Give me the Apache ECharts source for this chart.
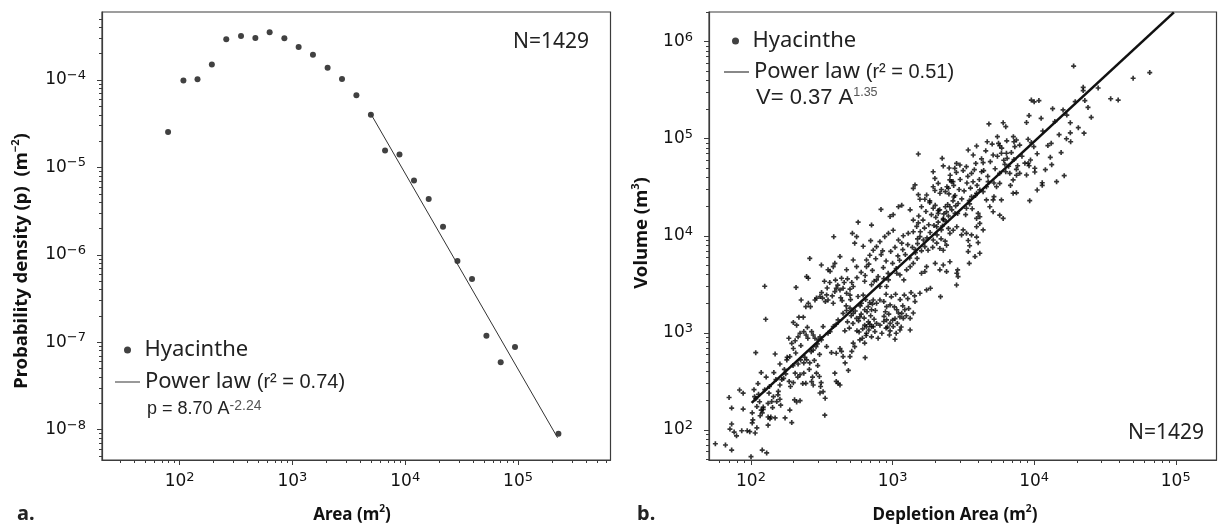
<!DOCTYPE html>
<html>
<head>
<meta charset="utf-8">
<script src="https://cdn.jsdelivr.net/npm/echarts@6/dist/echarts.min.js"></script>
<style>
  html, body { margin: 0; padding: 0; background: #fff; }
  #chart { width: 1218px; height: 526px; }
</style>
</head>
<body>
<div id="chart"></div>
<script>
// a. binned probability density vs area
const binArea = [79, 108, 144, 193, 259, 350, 469, 628, 848, 1135, 1520, 2050, 2750, 3690, 4960,
  6620, 8890, 11960, 16140, 21620, 29010, 39080, 52420, 70200, 93970, 227900];
const binDensity = [2.55e-5, 9.9e-5, 1.02e-4, 1.51e-4, 2.92e-4, 3.18e-4, 3.02e-4, 3.51e-4, 3.0e-4,
  2.38e-4, 1.95e-4, 1.38e-4, 1.03e-4, 6.7e-5, 4.0e-5, 1.56e-5, 1.41e-5, 7.1e-6, 4.36e-6, 2.1e-6,
  8.5e-7, 5.3e-7, 1.19e-7, 5.9e-8, 8.8e-8, 9.0e-9];
const fitAreaA = [4900, 224000];
const fitDensityA = [4.2e-5, 8.1e-9];

// b. volume vs depletion area, [area, volume]
const depPoints = [
  [56,72],[66,70],[73,62],[73,168],[79,87],[71,102],[73,115],[76,95],[86,98],[88,164],[94,98],[98,96],
  [100,53],[102,118],[103,127],[107,93],[110,105],[116,140],[120,150],[122,172],[120,62],[129,58],
  [132,136],[132,112],[138,136],[148,133],[174,133],[194,119],[188,160],[332,142],
  [110,174],[118,160],[122,163],[132,188],[136,130],
  [70,216],[83,258],[88,239],[108,210],[113,233],[134,239],[144,220],[156,250],[140,196],[152,196],[160,207],
  [160,290],[170,340],[176,378],[186,316],[199,307],[205,384],[222,370],[236,384],[244,302],[268,315],
  [275,290],[290,384],[304,355],[313,307],[323,248],[400,316],[412,302],[425,290],[203,204],[210,194],[222,200],
  [108,625],[148,606],[160,478],[179,526],[188,570],[199,690],[215,478],[224,526],[236,490],[247,526],
  [260,490],[275,665],[294,770],[314,845],[342,722],[370,626],[400,616],[436,645],[462,490],[487,410],
  [500,570],[515,645],[527,785],[640,555],
  [194,780],[205,830],[215,910],[222,990],[236,1030],[250,1140],[268,1030],[275,950],[283,880],[299,845],
  [307,910],[323,1160],[350,990],[362,1030],[381,1160],[400,1230],[412,1360],[447,1590],[473,1700],
  [500,1800],[527,1590],[557,1410],[587,1460],[635,1200],[654,1160],[690,1230],[730,1160],[770,1250],
  [814,1200],[867,1310],[907,1360],[960,1250],[1010,1160],[1040,1400],[1127,1460],[1190,1410],[1330,1070],
  [199,1280],[210,1200],[218,1450],[234,1450],[226,2180],[244,1860],[254,2020],[263,1860],[283,2180],
  [290,2280],[307,2370],[320,2280],[342,2460],[350,2180],[381,2020],[391,2660],[400,2880],[425,2770],
  [447,2880],[473,2560],[500,2820],[527,3000],[570,2370],[603,2020],[635,1730],[672,1860],[710,1730],
  [730,2180],[770,2020],[814,2180],[867,2100],[907,1860],[960,1940],[1070,1730],[1160,1590],[1220,1730],
  [1330,1410],[1440,2100],[1560,2560],[1738,2770],[1850,2880],
  [125,3020],[127,1380],[208,2940],[260,5850],
  [247,3800],[254,3650],[314,5000],[350,4470],[362,4300],[381,4810],[436,3650],[473,4470],[527,5630],
  [557,4810],[635,3400],[654,4810],[710,3130],[740,3400],[770,3510],[814,3000],[867,3620],[907,3000],
  [935,3510],[1070,4110],[1127,3950],[1200,3510],[1256,4460],[1330,4810],[1400,5200],[1490,5850],
  [1600,4110],[1690,4280],[1738,4810],[2000,5200],[2158,4460],[2280,5000],[2405,4280],[2540,5400],
  [2840,4110],[2900,3800],
  [384,9770],[391,5200],[425,6100],[520,10600],[540,8400],[557,9800],[571,13800],[654,5630],[690,6300],
  [730,7100],[770,7720],[814,8700],[880,9800],[935,10600],[1010,11400],[1100,9050],[1160,8400],
  [1190,10000],[1290,10600],[1400,11000],[1560,9800],[1650,9050],[1690,7720],[1780,7100],[1937,9050],
  [2050,8400],[2158,7400],[2280,7100],[2405,8000],[2540,10600],[2681,11400],[2840,12400],
  [828,18700],[710,12900],[960,15800],[1010,16500],[1100,19900],[1160,20600],[1330,18500],[1400,14500],
  [1520,13600],[1600,19900],[1830,22000],[2000,20600],[2100,17000],[2280,15000],[2405,17600],
  [2540,19900],[2760,17000],
  [425,690],[447,570],[540,720],[587,845],[612,880],[635,785],[654,990],[680,1070],[710,1160],
  [750,1030],[840,990],[900,1120],[1060,990],[1127,1070],[950,950],[710,910],[790,880],[1040,860],
  [391,384],[334,212],[307,240],
  [19000,560000],[50000,420000],[65500,480000],[22200,338000],[22200,313000],[28300,333000],
  [34700,258000],[39200,250000],[22800,247000],[19500,241000],[25300,166000],[22500,114000],
  [18000,146000],[18000,115000],[16900,100000],[18100,93000],[16000,198000],[13500,204000],
  [11200,162000],[13200,89600],[13000,64300],[13300,54000],[14400,36100],[16300,41600],[11400,33100],
  [11400,35200],[10500,29600],[9300,23000],[10100,45400],[10100,49600],[9060,55700],[8830,42300],
  [9420,60300],[9940,82800],[9060,98700],[9550,91200],[8830,147000],[9200,173000],[9550,250000],
  [10800,247000],[10000,240000],[7300,82800],[7200,93000],[7490,97000],[7130,105000],[6300,133000],
  [6040,146000],[5600,89600],[5714,84700],[5870,70800],[6370,70800],[6440,62800],[6210,54500],
  [6300,45700],[6730,44000],[7100,37600],[7490,48400],[7640,52700],[7900,44000],[9200,52700],
  [4790,142000],[4660,93000],[5130,67900],[5500,105000],[3920,84100],[3420,76500],[3710,67900],
  [3870,55700],[4360,56600],[4250,45700],[3610,44000],[3320,51500],[2990,53600],[2830,55700],
  [2750,49500],[1520,69600],[2240,62800],[2280,52400],[1935,45700],[1990,39000],[2100,34700],
  [2510,49900],[2536,37600],[2600,36200],[2670,36200],[2420,32000],[2480,30900],[2360,28500],
  [2160,27400],[2210,30000],[1935,32000],[1990,29300],[1440,33400],[1400,30800],[1520,26500],
  [1560,23800],[1740,26300],[1690,23800],[1830,22900],[1935,19200],[2100,18200],[2360,19900],
  [2670,22900],[2710,25100],[2790,20300],[2880,17000],[2480,16000],[2280,14600],[2050,12400],
  [2210,11500],[2480,11900],[3500,21300],[3610,25300],[3324,19200],[3920,27400],[4130,29700],
  [4360,28500],[4600,32000],[4730,36100],[5130,23400],[5200,25300],[5420,32000],[5710,34700],
  [5870,23400],[5710,16300],[6040,15100],[7100,27400],[7490,27700],[4020,17000],[3920,15100],
  [4130,15700],[4600,23400],[4860,19900],[5130,17700],[3150,11500],[3324,10600],[3610,10200],
  [3070,10200],[3920,12400],[4130,13400],[4360,11500],[3420,8950],[3500,7900],[3920,9700],
  [4020,8500],[3420,6870],[4130,6610],[3820,6100],[3480,5200],[2880,4450],[2830,3110],[2180,2360],
  // denser parts of the cloud
  [460,1050],[480,1300],[495,1120],[510,1500],[525,1250],[545,1680],[560,1050],[575,1330],[590,1900],
  [600,1560],[615,1100],[630,1420],[645,2200],[660,1650],[675,1300],[700,1500],[720,1980],[740,1380],
  [755,1700],[470,1900],[505,2200],[620,2450],[690,2050],[580,1020],[650,940],
  [870,1480],[890,1650],[920,1150],[940,1560],[980,2350],[1000,1350],[1030,1850],[1050,2500],[1080,1250],
  [1100,1600],[1130,2200],[1150,1150],[1180,1900],[1210,2450],[1250,1500],[1280,2250],[1300,1780],
  [1350,2600],[1400,1600],[1430,2400],[900,2500],[960,1050],
  [315,2600],[330,3400],[345,2900],[360,3300],[375,2400],[395,3500],[410,3100],[430,2300],[455,3300],
  [480,3600],[500,2450],[515,3300],[335,2100],[440,2150],
  [1450,7200],[1480,12500],[1500,8300],[1530,16000],[1570,11000],[1600,7000],[1640,14500],[1680,12000],
  [1720,17800],[1750,9500],[1800,13000],[1840,10800],[1880,16500],[1920,7600],[1960,12800],[2020,15500],
  [2060,10200],[2100,13800],[2150,18500],[2200,9300],[2250,12600],[2300,16800],[2350,8800],[2390,14000],
  [2450,21000],[2500,27000],[2550,42000],[2620,18500],[2700,33000],[2760,26000],[2820,45000],[2900,21500],
  [2950,30000],[3000,38000],[3080,24000],[3150,47000],[3200,29000],[3280,16500],[3350,35000],[3400,41000],
  [3480,23000],[3550,31000],[3650,19000],[3700,36000],[3780,48000],[3850,26000],[3950,33000],
  [4100,38000],[4250,62000],[4400,47000],[4550,75000],[4700,41000],[4900,58000],[5050,88000],[5300,49000],
  [5500,66000],[5700,44000],[5900,80000],[6100,60000],[6400,95000],[6600,52000],[6900,72000],[7200,61000],
  [7500,42000],[7900,86000],[8200,66000],[8600,56000],[5200,35000],[6800,33000],
  [165,330],[172,420],[180,560],[190,280],[198,460],[207,620],[214,350],[225,740],[232,300],[240,560],
  [252,880],[258,420],[266,640],[272,350],[280,520],[288,720],[296,460],[305,600],[310,280],[185,880],
  [245,950],
  [102,150],[106,220],[112,300],[115,195],[125,260],[128,350],[135,280],[142,170],[150,330],[155,230],
  [162,180],[105,260],[118,390],[145,390],
  [560,3700],[600,4200],[640,3900],[680,5100],[720,4400],[760,5800],[790,3800],[830,6400],[860,4700],
  [900,5500],[930,4100],[970,6900],[1000,5200],[1040,7600],[1060,4600],[1090,6200],[1120,5600],
  [1180,7200],[1230,6400],[1280,8100],[1320,5900],[1380,7600],[1450,6700],[1500,9300],[620,7800],
  [700,8900],[850,7000],
  [10500,70000],[11500,120000],[12500,85000],[14000,150000],[15000,110000],[17000,175000],[12000,48000],
  [20500,130000],[24000,210000],[15500,72000]
];
const fitAreaB = [101, 97000];
const fitVolumeB = [190, 2.0e6];

// axis ranges and major ticks
const xRangeA = [20.5, 6.6e5];
const yRangeA = [4.5e-9, 6.0e-4];
const xRangeB = [50.5, 1.94e5];
const yRangeB = [49, 2.02e6];
const xMajorA = [1e2, 1e3, 1e4, 1e5];
const yMajorA = [1e-8, 1e-7, 1e-6, 1e-5, 1e-4];
const xMajorB = [1e2, 1e3, 1e4, 1e5];
const yMajorB = [1e2, 1e3, 1e4, 1e5, 1e6];

const axisColor = '#3c3c3c';
const ink = '#111';

function minorTicks(range) {
  const out = [];
  for (let e = Math.floor(Math.log10(range[0])); e <= Math.floor(Math.log10(range[1])); e++) {
    for (let k = 2; k <= 9; k++) {
      const v = k * Math.pow(10, e);
      if (v > range[0] && v < range[1]) out.push(v);
    }
  }
  return out;
}

function powLabel(v) {
  const e = Math.round(Math.log10(v));
  return '{b|10}{s|' + (e < 0 ? '\u2212' + (-e) : e) + '}';
}

const labelRich = {
  b: { fontFamily: 'DejaVu Sans', fontSize: 17, lineHeight: 22, color: ink },
  s: { fontFamily: 'DejaVu Sans', fontSize: 13, lineHeight: 11, verticalAlign: 'top', color: ink }
};

function logAxis(gridIndex, position, range, ticks, major) {
  const isX = position === 'bottom';
  return {
    type: 'log',
    logBase: 10,
    gridIndex: gridIndex,
    position: position,
    min: range[0],
    max: range[1],
    axisLine: { show: major, lineStyle: { color: axisColor, width: 1.2 } },
    axisTick: {
      show: true,
      inside: false,
      length: major ? 5 : 3,
      customValues: ticks,
      lineStyle: { color: axisColor, width: 1 }
    },
    axisLabel: major ? {
      customValues: ticks,
      formatter: powLabel,
      margin: isX ? 11 : 16,
      rich: labelRich
    } : { show: false },
    splitLine: { show: false },
    minorSplitLine: { show: false }
  };
}

const legendText = {
  fontFamily: 'Noto Sans',
  fontSize: 22,
  color: '#222',
  lineHeight: 24,
  rich: { r: { fontFamily: 'Liberation Sans', fontSize: 20, color: '#222', lineHeight: 24 } }
};
function legendAt(left, top, name, icon, w, h) {
  return {
    left: left, top: top, padding: 0,
    orient: 'vertical',
    selectedMode: false,
    itemWidth: w, itemHeight: h,
    data: [{ name: name, icon: icon }],
    textStyle: legendText,
    formatter: function (n) { return n.replace(/\((.*)\)/, '{r|($1)}'); }
  };
}

function title(x, y, text, size, rotate, align) {
  return {
    type: 'text',
    x: x, y: y,
    rotation: rotate ? Math.PI / 2 : 0,
    silent: true,
    style: {
      text: text,
      fill: '#111',
      align: align || 'center',
      verticalAlign: 'middle',
      rich: {
        t: { fontFamily: 'Noto Sans', fontWeight: 'bold', fontSize: size, lineHeight: size + 4, fill: '#111' },
        s: { fontFamily: 'Noto Sans', fontWeight: 'bold', fontSize: size * 0.6, lineHeight: 9, verticalAlign: 'top', fill: '#111' }
      }
    }
  };
}

function plain(x, y, text, font, size, weight, align) {
  return {
    type: 'text', x: x, y: y, silent: true,
    style: { text: text, fill: '#222', fontFamily: font, fontSize: size, fontWeight: weight || 'normal',
      align: align || 'left', verticalAlign: 'middle' }
  };
}

function equation(x, y, main, sup, size, supSize) {
  return {
    type: 'text', x: x, y: y, silent: true,
    style: {
      text: '{m|' + main + '}{s|' + sup + '}',
      align: 'left', verticalAlign: 'middle',
      rich: {
        m: { fontFamily: 'Liberation Sans', fontSize: size, lineHeight: size + 2, fill: '#222' },
        s: { fontFamily: 'Liberation Sans', fontSize: supSize, lineHeight: 10, verticalAlign: 'top', fill: '#555' }
      }
    }
  };
}

const chart = echarts.init(document.getElementById('chart'), null, { renderer: 'canvas' });

const option = {
  animation: false,
  backgroundColor: '#fff',
  grid: [
    { left: 102, top: 12, width: 508.5, height: 448, show: true, borderColor: axisColor, borderWidth: 1.2 },
    { left: 709, top: 12, width: 507.5, height: 448, show: true, borderColor: axisColor, borderWidth: 1.2 }
  ],
  xAxis: [
    logAxis(0, 'bottom', xRangeA, xMajorA, true),
    logAxis(0, 'bottom', xRangeA, minorTicks(xRangeA), false),
    logAxis(1, 'bottom', xRangeB, xMajorB, true),
    logAxis(1, 'bottom', xRangeB, minorTicks(xRangeB), false)
  ],
  yAxis: [
    logAxis(0, 'left', yRangeA, yMajorA, true),
    logAxis(0, 'left', yRangeA, minorTicks(yRangeA), false),
    logAxis(1, 'left', yRangeB, yMajorB, true),
    logAxis(1, 'left', yRangeB, minorTicks(yRangeB), false)
  ],
  legend: [
    legendAt(124, 338, 'Hyacinthe', 'circle', 24, 7),
    legendAt(115, 370, 'Power law (r\u00b2 = 0.74)', 'rect', 25, 1),
    legendAt(732, 29, 'Hyacinthe', 'circle', 24, 7),
    legendAt(724, 60, 'Power law (r\u00b2 = 0.51)', 'rect', 25, 1)
  ],
  series: [
    {
      type: 'scatter', name: 'Hyacinthe', xAxisIndex: 0, yAxisIndex: 0,
      data: binArea.map((a, i) => [a, binDensity[i]]),
      symbol: 'circle', symbolSize: 6, itemStyle: { color: ink }, silent: true
    },
    {
      type: 'line', name: 'Power law (r\u00b2 = 0.74)', xAxisIndex: 0, yAxisIndex: 0,
      data: fitAreaA.map((a, i) => [a, fitDensityA[i]]),
      symbol: 'none', color: '#333', lineStyle: { color: '#333', width: 1 }, silent: true
    },
    {
      type: 'scatter', name: 'Hyacinthe', xAxisIndex: 2, yAxisIndex: 2,
      data: depPoints,
      symbol: 'path://M1,0H2V1H3V2H2V3H1V2H0V1H1Z', symbolSize: 5,
      itemStyle: { color: '#000' }, silent: true
    },
    {
      type: 'line', name: 'Power law (r\u00b2 = 0.51)', xAxisIndex: 2, yAxisIndex: 2,
      data: fitAreaB.map((a, i) => [a, fitVolumeB[i]]),
      symbol: 'none', color: ink, lineStyle: { color: ink, width: 2.6 }, silent: true
    }
  ],
  graphic: [
    title(22, 261, '{t|Probability density (p)  (m}{s|\u22122}{t|)}', 18.5, true),
    title(352, 515, '{t|Area (m}{s|2}{t|)}', 17, false),
    title(642, 233, '{t|Volume (m}{s|3}{t|)}', 18.5, true),
    title(955, 515, '{t|Depletion Area (m}{s|2}{t|)}', 17, false),
    plain(17, 514, 'a.', 'Noto Sans', 20, 'bold'),
    plain(637, 514, 'b.', 'Noto Sans', 20, 'bold'),
    plain(513, 42, 'N=1429', 'Noto Sans', 21),
    plain(1128, 433, 'N=1429', 'Noto Sans', 21),
    equation(147, 409, 'p = 8.70 A', '-2.24', 18, 14),
    equation(756, 98, 'V= 0.37 A', '1.35', 22, 12.5)
  ]
};

chart.setOption(option);
</script>
</body>
</html>
